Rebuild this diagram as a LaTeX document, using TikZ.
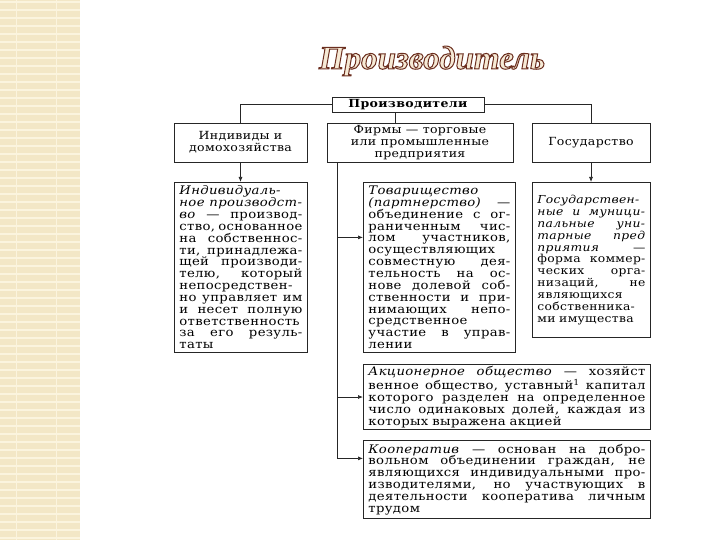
\documentclass[tikz,border=0pt]{standalone}
\usepackage{fontspec}
\setmainfont[LetterSpace=3,FakeStretch=1.12]{DejaVu Serif}
\newfontfamily\titlefont{Liberation Serif}
\usetikzlibrary{arrows.meta,calc}

\definecolor{stripbg}{HTML}{F3E7C6}
\definecolor{stripln}{HTML}{FBF4DE}
\definecolor{titlefill}{HTML}{F6EAD6}

% one justified line of a text box
\newlength{\jlw}
\newcommand{\jl}[1]{{\spaceskip=0.33em plus 1fil minus 0.15em\relax\makebox[\jlw][s]{#1}}}

\tikzset{
  headbox/.style={draw=black!85, line width=0.8pt, align=center,
    font=\fontsize{11.2}{12.2}\selectfont, inner sep=2pt},
  textbox/.style={draw=black!85, line width=0.8pt, anchor=north west, align=left,
    font=\fontsize{11.8}{11.85}\selectfont, inner xsep=5pt, inner ysep=2pt,
    text width=#1, execute at begin node={\setlength{\jlw}{#1}}},
  titletext/.style={font=\titlefont\bfseries\itshape\fontsize{33}{35}\selectfont},
  link/.style={draw=black!85, line width=0.7pt},
  arr/.style={link, -{Latex[length=5pt,width=4pt]}}
}

\begin{document}
\begin{tikzpicture}[x=1pt,y=-1pt]
  \useasboundingbox (0,0) rectangle (720,540);
  % left strip
  \fill[stripbg] (0,0) rectangle (80,540);
  \foreach \y in {2,10,...,538} \draw[stripln, line width=1.2pt] (0,\y) -- (80,\y);
  \foreach \x in {16,56} \draw[stripln, line width=1pt] (\x,0) -- (\x,540);

  % title, outlined
  \node[titletext, text=titlefill] (title) at (432,61)
    {\special{pdf:code 2 Tr 1 w 0.42 0.18 0.12 RG}Производитель\special{pdf:code 0 Tr}};

  % headers
  \node[headbox, minimum width=152pt, minimum height=15pt] (prod) at (408,104.5) {\textbf{Производители}};
  \node[headbox, minimum width=133pt, minimum height=39pt] (indiv) at (240.5,142.5) {Индивиды и\\домохозяйства};
  \node[headbox, minimum width=186pt, minimum height=39pt] (firm) at (420,142.5) {Фирмы — торговые\\или промышленные\\предприятия};
  \node[headbox, minimum width=118pt, minimum height=39pt] (gos) at (591,142.5) {Государство};

  % text boxes
  \node[textbox=123pt, minimum height=170pt] (indivtxt) at (174,182) {%
    \textit{Индивидуаль-}\\
    \jl{\textit{ное производст-}}\\
    \jl{\textit{во} — производ-}\\
    \jl{ство, основанное}\\
    \jl{на собственнос-}\\
    \jl{ти, принадлежа-}\\
    \jl{щей производи-}\\
    \jl{телю, который}\\
    непосредствен-\\
    \jl{но управляет им}\\
    \jl{и несет полную}\\
    ответственность\\
    \jl{за его резуль-}\\
    таты};
  \node[textbox=142pt, minimum height=170pt] (tovar) at (363,182) {%
    \textit{Товарищество}\\
    \jl{\textit{(партнерство)} —}\\
    \jl{объединение с ог-}\\
    \jl{раниченным чис-}\\
    \jl{лом участников,}\\
    осуществляющих\\
    \jl{совместную дея-}\\
    \jl{тельность на ос-}\\
    \jl{нове долевой соб-}\\
    \jl{ственности и при-}\\
    \jl{нимающих непо-}\\
    средственное\\
    \jl{участие в управ-}\\
    лении};
  \node[textbox=108pt, minimum height=155pt, font=\fontsize{11}{11.85}\selectfont] (gostxt) at (532,182) {%
    \mbox{\textit{Государствен-}}\\
    \jl{\textit{ные и муници-}}\\
    \jl{\textit{пальные уни-}}\\
    \jl{\textit{тарные пред}}\\
    \jl{\textit{приятия} —}\\
    \jl{форма коммер-}\\
    \jl{ческих орга-}\\
    \jl{низаций, не}\\
    являющихся\\
    собственника-\\
    ми имущества};
  \node[textbox=277pt, minimum height=64pt] (akc) at (363,364) {%
    \jl{\textit{Акционерное общество} — хозяйст}\\
    \jl{венное общество, уставный\textsuperscript{1} капитал}\\
    \jl{которого разделен на определенное}\\
    \jl{число одинаковых долей, каждая из}\\
    которых выражена акцией};
  \node[textbox=277pt, minimum height=78pt] (coop) at (363,440) {%
    \jl{\textit{Кооператив} — основан на добро-}\\
    \jl{вольном объединении граждан, не}\\
    \jl{являющихся индивидуальными про-}\\
    \jl{изводителями, но участвующих в}\\
    \jl{деятельности кооператива личным}\\
    трудом};

  % connectors
  \draw[link] (prod.west) -| (indiv.north);
  \draw[link] (prod.east) -| (gos.north);
  \coordinate (drop) at ([xshift=-13pt]prod.south);
  \draw[link] (drop) -- (drop |- firm.north);
  \draw[arr] (indiv.south) -- (indivtxt.north -| indiv.south);
  \draw[arr] (gos.south) -- (gostxt.north -| gos.south);
  \coordinate (trunk) at ([xshift=11pt]firm.south west);
  \coordinate (tv) at ([yshift=30pt]tovar.west);
  \coordinate (cp) at ([yshift=21pt]coop.west);
  \draw[arr] (trunk) |- (cp);
  \draw[arr] (trunk |- tv) -- (tv);
  \draw[arr] (trunk |- akc.west) -- (akc.west);
\end{tikzpicture}
\end{document}
